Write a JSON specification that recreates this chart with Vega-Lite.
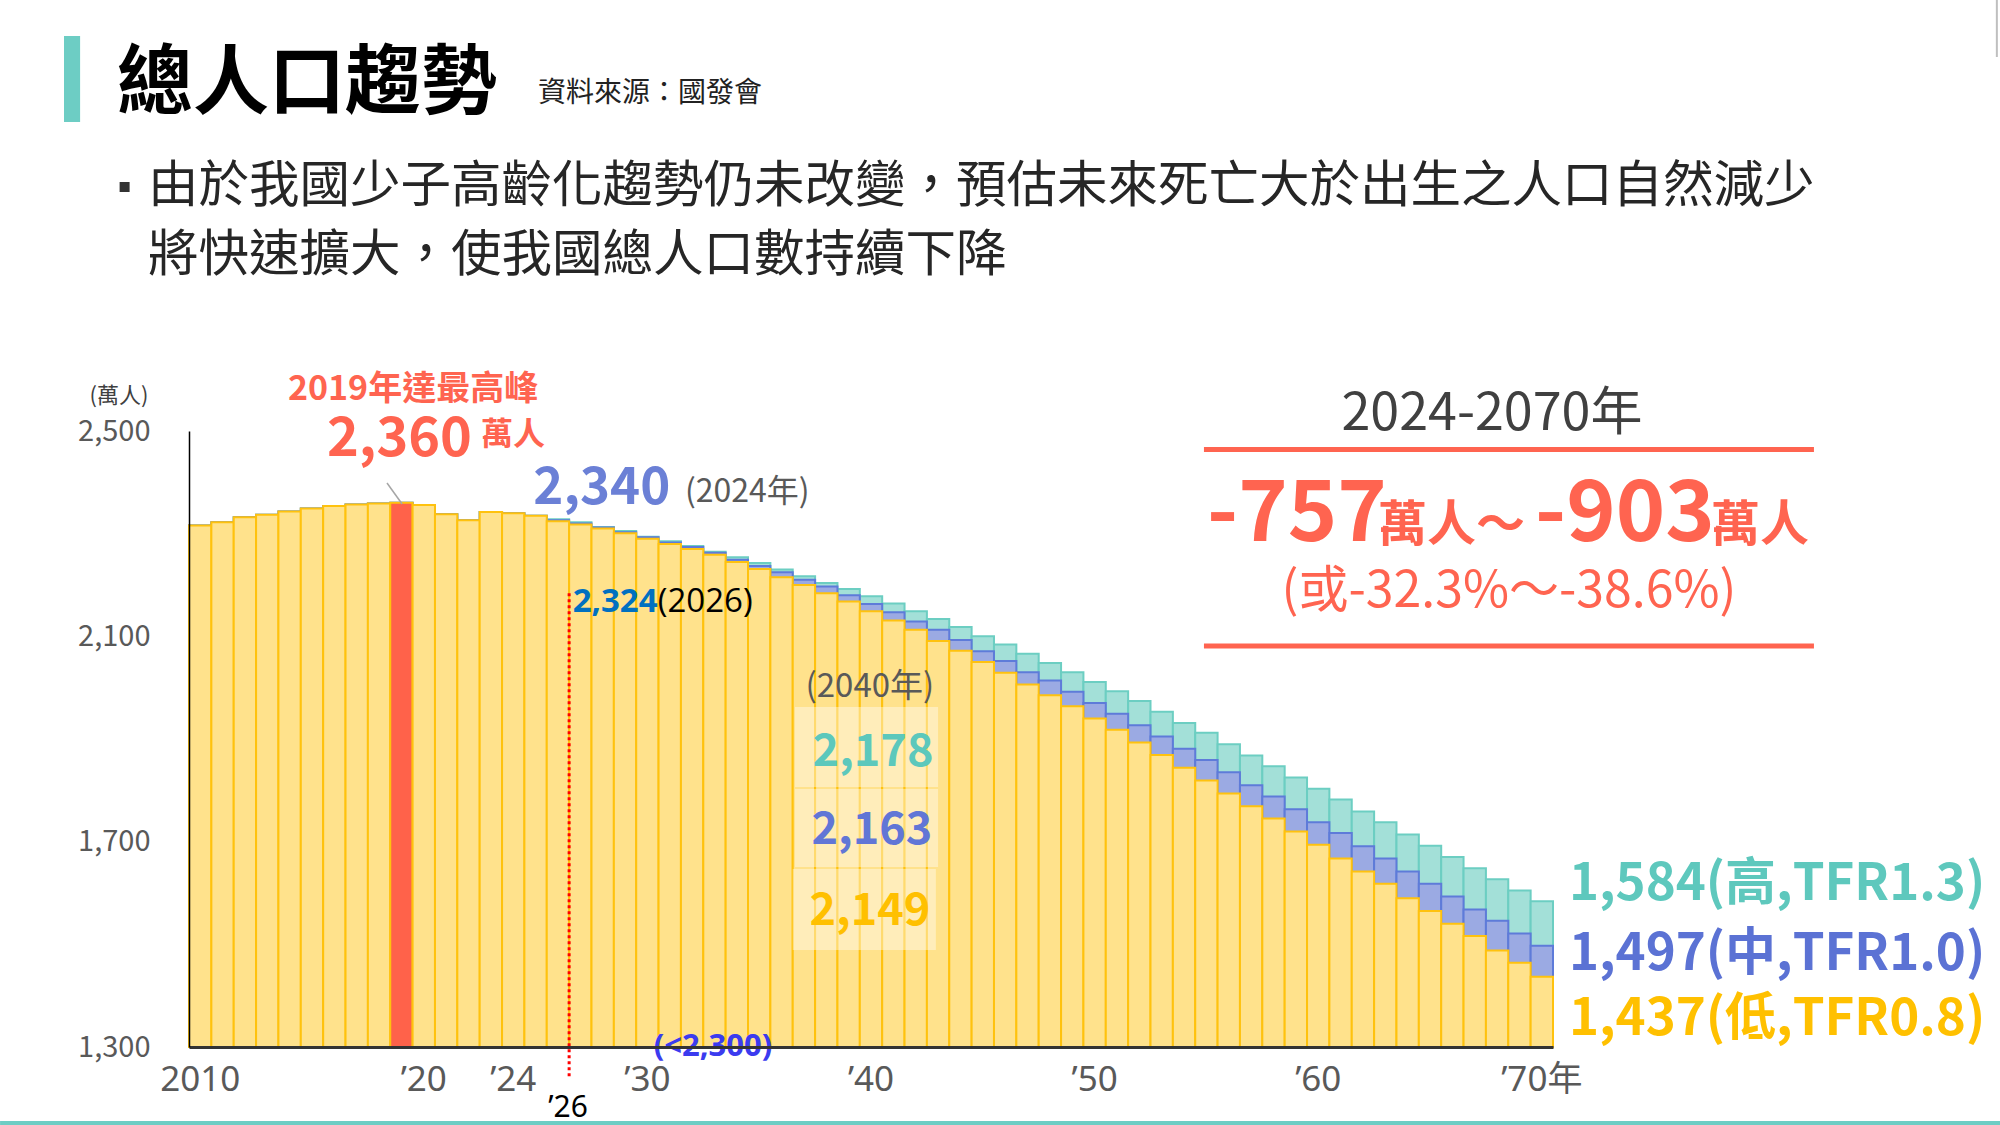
{
  "$schema": "https://vega.github.io/schema/vega-lite/v6.json",
  "width": 1364,
  "height": 616,
  "autosize": {"type": "none"},
  "padding": {"left": 189, "top": 431, "right": 447, "bottom": 78},
  "background": "white",
  "config": {"view": {"stroke": null}, "font": "Noto Sans CJK TC"},
  "resolve": {"scale": {"x": "independent"}},
  "layer": [
    {
      "data": {"values": [
        {"year": 2010, "high": 2316, "medium": 2316, "low": 2316},
        {"year": 2011, "high": 2322, "medium": 2322, "low": 2322},
        {"year": 2012, "high": 2332, "medium": 2332, "low": 2332},
        {"year": 2013, "high": 2337, "medium": 2337, "low": 2337},
        {"year": 2014, "high": 2343, "medium": 2343, "low": 2343},
        {"year": 2015, "high": 2349, "medium": 2349, "low": 2349},
        {"year": 2016, "high": 2354, "medium": 2354, "low": 2354},
        {"year": 2017, "high": 2357, "medium": 2357, "low": 2357},
        {"year": 2018, "high": 2359, "medium": 2359, "low": 2359},
        {"year": 2019, "high": 2360, "medium": 2360, "low": 2360},
        {"year": 2020, "high": 2356, "medium": 2356, "low": 2356},
        {"year": 2021, "high": 2338, "medium": 2338, "low": 2338},
        {"year": 2022, "high": 2326, "medium": 2326, "low": 2326},
        {"year": 2023, "high": 2342, "medium": 2342, "low": 2342},
        {"year": 2024, "high": 2340, "medium": 2340, "low": 2340},
        {"year": 2025, "high": 2335, "medium": 2335, "low": 2335},
        {"year": 2026, "high": 2328, "medium": 2326, "low": 2324},
        {"year": 2027, "high": 2322, "medium": 2320, "low": 2318},
        {"year": 2028, "high": 2313, "medium": 2312, "low": 2310},
        {"year": 2029, "high": 2305, "medium": 2303, "low": 2301},
        {"year": 2030, "high": 2294, "medium": 2293, "low": 2290},
        {"year": 2031, "high": 2285, "medium": 2283, "low": 2280},
        {"year": 2032, "high": 2276, "medium": 2274, "low": 2270},
        {"year": 2033, "high": 2265, "medium": 2263, "low": 2259},
        {"year": 2034, "high": 2254, "medium": 2249, "low": 2245},
        {"year": 2035, "high": 2243, "medium": 2237, "low": 2231},
        {"year": 2036, "high": 2230, "medium": 2225, "low": 2215},
        {"year": 2037, "high": 2217, "medium": 2210, "low": 2200},
        {"year": 2038, "high": 2204, "medium": 2197, "low": 2184},
        {"year": 2039, "high": 2192, "medium": 2180, "low": 2168},
        {"year": 2040, "high": 2178, "medium": 2163, "low": 2149},
        {"year": 2041, "high": 2164, "medium": 2147, "low": 2131},
        {"year": 2042, "high": 2149, "medium": 2129, "low": 2113},
        {"year": 2043, "high": 2134, "medium": 2113, "low": 2091},
        {"year": 2044, "high": 2118, "medium": 2093, "low": 2072},
        {"year": 2045, "high": 2100, "medium": 2071, "low": 2050},
        {"year": 2046, "high": 2084, "medium": 2052, "low": 2029},
        {"year": 2047, "high": 2066, "medium": 2030, "low": 2006},
        {"year": 2048, "high": 2048, "medium": 2014, "low": 1985},
        {"year": 2049, "high": 2030, "medium": 1992, "low": 1964},
        {"year": 2050, "high": 2011, "medium": 1970, "low": 1940},
        {"year": 2051, "high": 1993, "medium": 1949, "low": 1918},
        {"year": 2052, "high": 1974, "medium": 1927, "low": 1893},
        {"year": 2053, "high": 1953, "medium": 1905, "low": 1869},
        {"year": 2054, "high": 1931, "medium": 1881, "low": 1844},
        {"year": 2055, "high": 1912, "medium": 1859, "low": 1819},
        {"year": 2056, "high": 1890, "medium": 1835, "low": 1794},
        {"year": 2057, "high": 1868, "medium": 1810, "low": 1769},
        {"year": 2058, "high": 1847, "medium": 1788, "low": 1745},
        {"year": 2059, "high": 1825, "medium": 1763, "low": 1720},
        {"year": 2060, "high": 1803, "medium": 1738, "low": 1694},
        {"year": 2061, "high": 1782, "medium": 1717, "low": 1667},
        {"year": 2062, "high": 1759, "medium": 1691, "low": 1642},
        {"year": 2063, "high": 1738, "medium": 1667, "low": 1618},
        {"year": 2064, "high": 1714, "medium": 1642, "low": 1590},
        {"year": 2065, "high": 1692, "medium": 1618, "low": 1565},
        {"year": 2066, "high": 1670, "medium": 1593, "low": 1540},
        {"year": 2067, "high": 1648, "medium": 1568, "low": 1516},
        {"year": 2068, "high": 1627, "medium": 1546, "low": 1488},
        {"year": 2069, "high": 1605, "medium": 1521, "low": 1464},
        {"year": 2070, "high": 1584, "medium": 1497, "low": 1437}
      ]},
      "layer": [
        {
          "mark": {"type": "bar", "fill": "#A3E0D8", "stroke": "#6CCEC2", "strokeWidth": 2},
          "encoding": {
            "x": {"field": "year", "type": "ordinal", "title": null, "scale": {"paddingInner": 0, "paddingOuter": 0},
              "axis": {"values": [2010, 2020, 2024, 2030, 2040, 2050, 2060, 2070],
                "labelExpr": "datum.value == 2010 ? '2010' : (datum.value == 2070 ? '’70年' : '’' + substring(toString(datum.value), 2, 4))",
                "title": null, "ticks": false, "tickSize": 0, "domainColor": "#333333", "domainWidth": 3, "zindex": 1,
                "labelFontSize": 35, "labelColor": "#595959", "labelPadding": 15, "labelAngle": 0, "labelFont": "Noto Sans, Noto Sans CJK TC"}},
            "y": {"field": "high", "type": "quantitative", "title": null, "scale": {"domain": [1300, 2500], "nice": false, "zero": false},
              "axis": {"values": [1300, 1700, 2100, 2500], "labelExpr": "format(datum.value, ',')", "title": null, "ticks": false, "tickSize": 0, "grid": false, "zindex": 1,
                "domainColor": "#000000", "domainWidth": 1.5, "labelFontSize": 29, "labelColor": "#595959", "labelPadding": 39, "labelFont": "Noto Sans CJK TC"}},
            "y2": {"datum": 1300}
          }
        },
        {
          "mark": {"type": "bar", "fill": "#9BAAE3", "stroke": "#5E7BD9", "strokeWidth": 2},
          "encoding": {
            "x": {"field": "year", "type": "ordinal", "title": null},
            "y": {"field": "medium", "type": "quantitative", "title": null},
            "y2": {"datum": 1300}
          }
        },
        {
          "mark": {"type": "bar", "stroke": "#FFC20E", "strokeWidth": 2},
          "encoding": {
            "x": {"field": "year", "type": "ordinal", "title": null},
            "y": {"field": "low", "type": "quantitative", "title": null},
            "y2": {"datum": 1300},
            "fill": {"condition": {"test": "datum.year === 2019", "value": "#FF624A"}, "value": "#FFE28C"}
          }
        }
      ]
    },
    {
      "data": {"values": [{}]},
      "layer": [
        {"mark": {"type": "rect", "fill": "#6DCDC4"},
          "encoding": {"x": {"datum": 2003.91, "type": "quantitative", "scale": {"domain": [2009.5, 2070.5], "nice": false, "zero": false}, "axis": null},
            "x2": {"datum": 2004.63},
            "y": {"datum": 3269.5, "type": "quantitative", "scale": {"domain": [1300, 2500], "nice": false, "zero": false}},
            "y2": {"datum": 3102}}},
        {"mark": {"type": "text", "text": "總人口趨勢", "fontSize": 76, "fontWeight": "bold", "color": "#000000", "align": "left", "baseline": "alphabetic"},
          "encoding": {"x": {"datum": 2006.28, "type": "quantitative", "axis": null}, "y": {"datum": 3129.2, "type": "quantitative"}}},
        {"mark": {"type": "text", "text": "資料來源：國發會", "fontSize": 28, "color": "#222222", "align": "left", "baseline": "alphabetic"},
          "encoding": {"x": {"datum": 2025.11, "type": "quantitative", "axis": null}, "y": {"datum": 3141.7, "type": "quantitative"}}},
        {"mark": {"type": "square", "size": 100, "color": "#333333", "opacity": 1},
          "encoding": {"x": {"datum": 2006.62, "type": "quantitative", "axis": null}, "y": {"datum": 2975.3, "type": "quantitative"}}},
        {"mark": {"type": "text", "text": "由於我國少子高齡化趨勢仍未改變，預估未來死亡大於出生之人口自然減少", "fontSize": 50.5, "color": "#262626", "align": "left", "baseline": "alphabetic"},
          "encoding": {"x": {"datum": 2007.67, "type": "quantitative", "axis": null}, "y": {"datum": 2946.1, "type": "quantitative"}}},
        {"mark": {"type": "text", "text": "將快速擴大，使我國總人口數持續下降", "fontSize": 50.5, "color": "#262626", "align": "left", "baseline": "alphabetic"},
          "encoding": {"x": {"datum": 2007.67, "type": "quantitative", "axis": null}, "y": {"datum": 2811.7, "type": "quantitative"}}},
        {"mark": {"type": "text", "text": "(萬人)", "fontSize": 22, "color": "#404040", "align": "center", "baseline": "alphabetic"},
          "encoding": {"x": {"datum": 2006.37, "type": "quantitative", "axis": null}, "y": {"datum": 2554.6, "type": "quantitative"}}},
        {"mark": {"type": "rule", "color": "#A6A6A6", "strokeWidth": 1.5},
          "encoding": {"x": {"datum": 2018.355, "type": "quantitative", "axis": null}, "x2": {"datum": 2019.03}, "y": {"datum": 2398.7, "type": "quantitative"}, "y2": {"datum": 2357.8}}},
        {"mark": {"type": "text", "text": "2019年達最高峰", "fontSize": 34, "fontWeight": "bold", "color": "#FF6450", "align": "center", "baseline": "alphabetic"},
          "encoding": {"x": {"datum": 2019.52, "type": "quantitative", "axis": null}, "y": {"datum": 2560.4, "type": "quantitative"}}},
        {"mark": {"type": "text", "text": "2,360", "fontSize": 54, "fontWeight": "bold", "color": "#FF6450", "align": "left", "baseline": "alphabetic"},
          "encoding": {"x": {"datum": 2015.67, "type": "quantitative", "axis": null}, "y": {"datum": 2451.3, "type": "quantitative"}}},
        {"mark": {"type": "text", "text": "萬人", "fontSize": 32, "fontWeight": "bold", "color": "#FF6450", "align": "left", "baseline": "alphabetic"},
          "encoding": {"x": {"datum": 2022.56, "type": "quantitative", "axis": null}, "y": {"datum": 2472.7, "type": "quantitative"}}},
        {"mark": {"type": "text", "text": "2,340", "fontSize": 51, "fontWeight": "bold", "color": "#6B80D6", "align": "left", "baseline": "alphabetic"},
          "encoding": {"x": {"datum": 2024.9, "type": "quantitative", "axis": null}, "y": {"datum": 2357.8, "type": "quantitative"}}},
        {"mark": {"type": "text", "text": "(2024年)", "fontSize": 32, "color": "#595959", "align": "left", "baseline": "alphabetic"},
          "encoding": {"x": {"datum": 2031.68, "type": "quantitative", "axis": null}, "y": {"datum": 2361.7, "type": "quantitative"}}},
        {"mark": {"type": "rule", "color": "#FF0000", "strokeWidth": 3, "strokeDash": [3, 3]},
          "encoding": {"x": {"datum": 2026.5, "type": "quantitative", "axis": null}, "y": {"datum": 2184, "type": "quantitative"}, "y2": {"datum": 1240}}},
        {"mark": {"type": "text", "text": "2,324", "fontSize": 33, "fontWeight": "bold", "font": "Open Sans", "color": "#0070C0", "align": "left", "baseline": "alphabetic"},
          "encoding": {"x": {"datum": 2026.66, "type": "quantitative", "axis": null}, "y": {"datum": 2148, "type": "quantitative"}}},
        {"mark": {"type": "text", "text": "(2026)", "fontSize": 33, "font": "Open Sans", "color": "#000000", "align": "left", "baseline": "alphabetic"},
          "encoding": {"x": {"datum": 2030.46, "type": "quantitative", "axis": null}, "y": {"datum": 2148, "type": "quantitative"}}},
        {"mark": {"type": "text", "text": "(<2,300)", "fontSize": 31, "fontWeight": "bold", "font": "Open Sans", "color": "#3B3BEF", "align": "center", "baseline": "alphabetic"},
          "encoding": {"x": {"datum": 2032.93, "type": "quantitative", "axis": null}, "y": {"datum": 1282.5, "type": "quantitative"}}},
        {"mark": {"type": "text", "text": "’26", "fontSize": 30, "font": "Noto Sans", "color": "#000000", "align": "center", "baseline": "alphabetic"},
          "encoding": {"x": {"datum": 2026.45, "type": "quantitative", "axis": null}, "y": {"datum": 1163.6, "type": "quantitative"}}},
        {"mark": {"type": "rect", "fill": "#FFFFFF", "opacity": 0.4},
          "encoding": {"x": {"datum": 2036.6, "type": "quantitative", "axis": null}, "x2": {"datum": 2043.0}, "y": {"datum": 1962.3, "type": "quantitative"}, "y2": {"datum": 1806.5}}},
        {"mark": {"type": "rect", "fill": "#FFFFFF", "opacity": 0.4},
          "encoding": {"x": {"datum": 2036.6, "type": "quantitative", "axis": null}, "x2": {"datum": 2043.0}, "y": {"datum": 1802.6, "type": "quantitative"}, "y2": {"datum": 1650.6}}},
        {"mark": {"type": "rect", "fill": "#FFFFFF", "opacity": 0.4},
          "encoding": {"x": {"datum": 2036.5, "type": "quantitative", "axis": null}, "x2": {"datum": 2042.9}, "y": {"datum": 1646.8, "type": "quantitative"}, "y2": {"datum": 1489}}},
        {"mark": {"type": "text", "text": "(2040年)", "fontSize": 33, "color": "#595959", "align": "center", "baseline": "alphabetic"},
          "encoding": {"x": {"datum": 2039.95, "type": "quantitative", "axis": null}, "y": {"datum": 1981.8, "type": "quantitative"}}},
        {"mark": {"type": "text", "text": "2,178", "fontSize": 45, "fontWeight": "bold", "color": "#5CC8BC", "align": "center", "baseline": "alphabetic"},
          "encoding": {"x": {"datum": 2040.09, "type": "quantitative", "axis": null}, "y": {"datum": 1847.4, "type": "quantitative"}}},
        {"mark": {"type": "text", "text": "2,163", "fontSize": 45, "fontWeight": "bold", "color": "#6176D6", "align": "center", "baseline": "alphabetic"},
          "encoding": {"x": {"datum": 2040.04, "type": "quantitative", "axis": null}, "y": {"datum": 1695.5, "type": "quantitative"}}},
        {"mark": {"type": "text", "text": "2,149", "fontSize": 45, "fontWeight": "bold", "color": "#FFC000", "align": "center", "baseline": "alphabetic"},
          "encoding": {"x": {"datum": 2039.95, "type": "quantitative", "axis": null}, "y": {"datum": 1537.7, "type": "quantitative"}}},
        {"mark": {"type": "text", "text": "2024-2070年", "fontSize": 52, "color": "#404040", "align": "center", "baseline": "alphabetic"},
          "encoding": {"x": {"datum": 2067.77, "type": "quantitative", "axis": null}, "y": {"datum": 2502, "type": "quantitative"}}},
        {"mark": {"type": "rule", "color": "#FF6450", "strokeWidth": 5},
          "encoding": {"x": {"datum": 2054.89, "type": "quantitative", "axis": null}, "x2": {"datum": 2082.17}, "y": {"datum": 2464, "type": "quantitative"}}},
        {"mark": {"type": "rule", "color": "#FF6450", "strokeWidth": 5},
          "encoding": {"x": {"datum": 2054.89, "type": "quantitative", "axis": null}, "x2": {"datum": 2082.17}, "y": {"datum": 2081.2, "type": "quantitative"}}},
        {"mark": {"type": "text", "text": "-757", "fontSize": 84, "fontWeight": "bold", "color": "#FF6450", "align": "left", "baseline": "alphabetic"},
          "encoding": {"x": {"datum": 2055.03, "type": "quantitative", "axis": null}, "y": {"datum": 2285.7, "type": "quantitative"}}},
        {"mark": {"type": "text", "text": "萬人～", "fontSize": 49, "fontWeight": "bold", "color": "#FF6450", "align": "left", "baseline": "alphabetic"},
          "encoding": {"x": {"datum": 2062.67, "type": "quantitative", "axis": null}, "y": {"datum": 2285.7, "type": "quantitative"}}},
        {"mark": {"type": "text", "text": "-903", "fontSize": 84, "fontWeight": "bold", "color": "#FF6450", "align": "left", "baseline": "alphabetic"},
          "encoding": {"x": {"datum": 2069.7, "type": "quantitative", "axis": null}, "y": {"datum": 2285.7, "type": "quantitative"}}},
        {"mark": {"type": "text", "text": "萬人", "fontSize": 49, "fontWeight": "bold", "color": "#FF6450", "align": "left", "baseline": "alphabetic"},
          "encoding": {"x": {"datum": 2077.57, "type": "quantitative", "axis": null}, "y": {"datum": 2285.7, "type": "quantitative"}}},
        {"mark": {"type": "text", "text": "(或-32.3%～-38.6%)", "fontSize": 50, "color": "#FF6450", "align": "center", "baseline": "alphabetic"},
          "encoding": {"x": {"datum": 2068.53, "type": "quantitative", "axis": null}, "y": {"datum": 2157.1, "type": "quantitative"}}},
        {"mark": {"type": "text", "text": "1,584(高,TFR1.3)", "fontSize": 51, "fontWeight": "bold", "color": "#5EC8BD", "align": "left", "baseline": "alphabetic"},
          "encoding": {"x": {"datum": 2071.21, "type": "quantitative", "axis": null}, "y": {"datum": 1586.4, "type": "quantitative"}}},
        {"mark": {"type": "text", "text": "1,497(中,TFR1.0)", "fontSize": 51, "fontWeight": "bold", "color": "#5B72D4", "align": "left", "baseline": "alphabetic"},
          "encoding": {"x": {"datum": 2071.21, "type": "quantitative", "axis": null}, "y": {"datum": 1450, "type": "quantitative"}}},
        {"mark": {"type": "text", "text": "1,437(低,TFR0.8)", "fontSize": 51, "fontWeight": "bold", "color": "#FFC000", "align": "left", "baseline": "alphabetic"},
          "encoding": {"x": {"datum": 2071.21, "type": "quantitative", "axis": null}, "y": {"datum": 1323.4, "type": "quantitative"}}},
        {"mark": {"type": "rule", "color": "#6DCDC4", "strokeWidth": 4},
          "encoding": {"x": {"datum": 2001.05, "type": "quantitative", "axis": null}, "x2": {"datum": 2090.49}, "y": {"datum": 1151.9, "type": "quantitative"}}},
        {"mark": {"type": "rule", "color": "#BFBFBF", "strokeWidth": 2},
          "encoding": {"x": {"datum": 2090.35, "type": "quantitative", "axis": null}, "y": {"datum": 3339.6, "type": "quantitative"}, "y2": {"datum": 3228.6}}}
      ]
    }
  ]
}
